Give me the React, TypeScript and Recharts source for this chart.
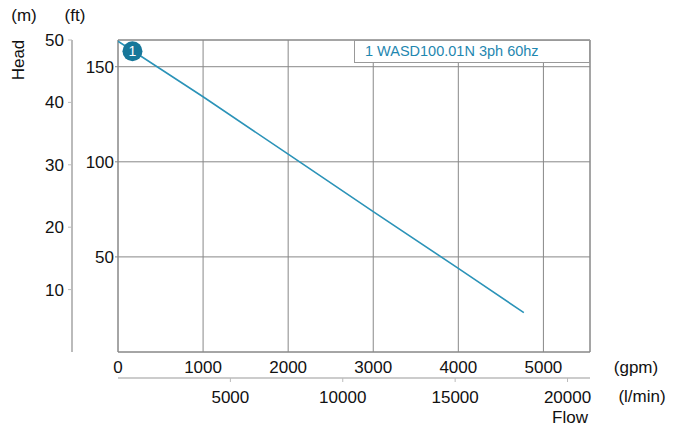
import React from "react";
import {
  LineChart,
  Line,
  XAxis,
  YAxis,
  CartesianGrid,
  ReferenceArea,
  ReferenceDot,
} from "recharts";

// pump curve (flow in gpm, head in m)
const flowGpm = [0, 1000, 2000, 3000, 4000, 4770];
const headM = [49.8, 40.9, 31.7, 22.5, 13.4, 6.3];

const gpmTicks = [0, 1000, 2000, 3000, 4000, 5000];
const lpmTicks = [5000, 10000, 15000, 20000];
const ftTicks = [50, 100, 150];
const mTicks = [10, 20, 30, 40, 50];

const seriesName = "1 WASD100.01N 3ph 60hz";
const markerFlow = 170;
const markerHead = 48.2;

const LPM_PER_GPM = 3.78541;
const GPM_MAX = 21000 / LPM_PER_GPM;
const M_MAX = 50;
const FT_MAX = 164.04;

const FONT = '"Liberation Sans", Arial, Helvetica, sans-serif';
const LINE = "#2b93b8";
const GRID = "#888";
const AXIS_LIGHT = "#bbb";

const data = flowGpm.map((q, i) => ({ q, h: headM[i] }));

// l/min ticks expressed on the gpm scale
const lpmTicksInGpm = lpmTicks.map((v) => v / LPM_PER_GPM);

const tickText = { fill: "#111", fontSize: 17, fontFamily: FONT };

function Txt({ x, y, children, rotate }: { x: number; y: number; children: React.ReactNode; rotate?: boolean }) {
  return (
    <div
      style={{
        position: "absolute",
        left: x,
        top: y,
        transform: `translate(-50%, -50%)${rotate ? " rotate(-90deg)" : ""}`,
        fontSize: 17,
        color: "#111",
        whiteSpace: "nowrap",
        lineHeight: 1,
      }}
    >
      {children}
    </div>
  );
}

export default function App() {
  return (
    <div
      style={{
        position: "absolute",
        left: 0,
        top: 0,
        width: 680,
        height: 430,
        background: "#fff",
        fontFamily: FONT,
      }}
    >
      <LineChart width={680} height={430} data={data} margin={{ top: 40, right: 90, bottom: 22, left: 0 }}>
        <XAxis
          xAxisId="gpm"
          dataKey="q"
          type="number"
          domain={[0, GPM_MAX]}
          allowDataOverflow
          ticks={gpmTicks}
          height={26}
          axisLine={false}
          tickLine={false}
          tickSize={4}
          tickMargin={5}
          tick={tickText}
        />
        <XAxis
          xAxisId="lpm"
          dataKey="q"
          type="number"
          domain={[0, GPM_MAX]}
          allowDataOverflow
          ticks={lpmTicksInGpm}
          tickFormatter={(v: number) => String(Math.round(v * LPM_PER_GPM))}
          height={30}
          axisLine={{ stroke: AXIS_LIGHT, strokeWidth: 1.5 }}
          tickLine={{ stroke: AXIS_LIGHT }}
          tickSize={4}
          tickMargin={9}
          tick={tickText}
        />
        <YAxis
          yAxisId="ft"
          type="number"
          domain={[0, FT_MAX]}
          allowDataOverflow
          ticks={ftTicks}
          width={46}
          axisLine={false}
          tickLine={{ stroke: GRID }}
          tickSize={3}
          tickMargin={1}
          tick={tickText}
        />
        <YAxis
          yAxisId="m"
          type="number"
          domain={[0, M_MAX]}
          allowDataOverflow
          ticks={mTicks}
          width={72}
          axisLine={{ stroke: AXIS_LIGHT, strokeWidth: 2 }}
          tickLine={{ stroke: AXIS_LIGHT }}
          tickSize={4}
          tickMargin={4}
          tick={tickText}
        />
        <CartesianGrid xAxisId="gpm" yAxisId="ft" stroke={GRID} />
        <ReferenceArea
          xAxisId="gpm"
          yAxisId="m"
          x1={0}
          x2={GPM_MAX}
          y1={0}
          y2={M_MAX}
          fill="none"
          stroke={GRID}
          strokeOpacity={1}
          fillOpacity={0}
        />
        <Line
          xAxisId="gpm"
          yAxisId="m"
          dataKey="h"
          type="linear"
          stroke={LINE}
          strokeWidth={1.6}
          dot={false}
          isAnimationActive={false}
        />
        <ReferenceDot
          xAxisId="gpm"
          yAxisId="m"
          x={markerFlow}
          y={markerHead}
          r={10}
          fill="#17779a"
          stroke="none"
          label={{ value: "1", position: "center", fill: "#fff", fontSize: 14, fontFamily: FONT }}
        />
      </LineChart>

      <div
        style={{
          position: "absolute",
          left: 354,
          top: 40,
          width: 236,
          height: 23,
          boxSizing: "border-box",
          border: "1px solid #999",
          background: "#fff",
          color: "#1f87b0",
          fontSize: 14.5,
          lineHeight: "21px",
          paddingLeft: 10,
          whiteSpace: "nowrap",
        }}
      >
        {seriesName}
      </div>

      <Txt x={24} y={15}>(m)</Txt>
      <Txt x={75} y={15}>(ft)</Txt>
      <Txt x={18} y={60} rotate>
        Head
      </Txt>
      <Txt x={636} y={367}>(gpm)</Txt>
      <Txt x={642} y={396}>(l/min)</Txt>
      <Txt x={570} y={417}>Flow</Txt>
    </div>
  );
}
